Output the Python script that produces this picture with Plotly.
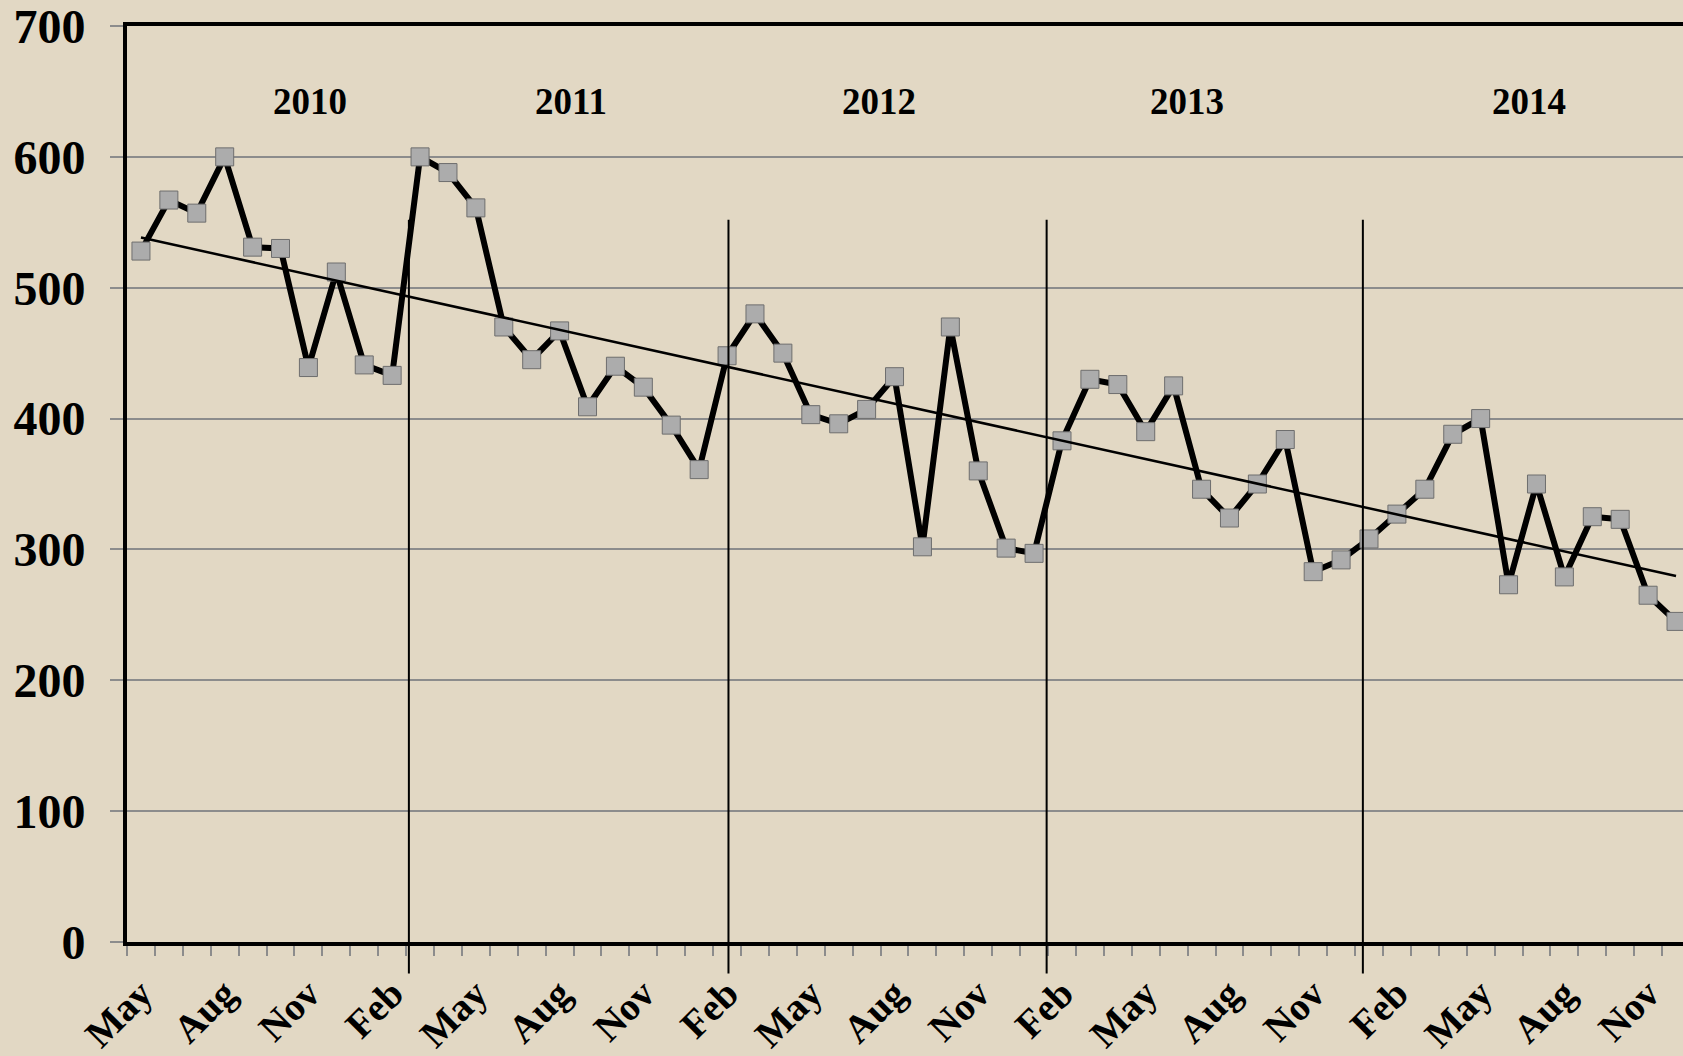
import numpy as np
import pandas as pd
import plotly.graph_objects as go

# ---- data ----
months = list(pd.date_range("2010-05-01", periods=56, freq="MS").strftime("%b %Y"))
values = [528, 567, 557, 600, 531, 530, 439, 512, 441, 433,
          600, 588, 561, 470, 445, 467, 409, 440, 424, 395,
          361, 448, 480, 450, 403, 396, 407, 432, 302, 470,
          360, 301, 297, 383, 430, 426, 390, 425, 346, 324,
          350, 384, 283, 292, 308, 327, 346, 388, 400, 273,
          350, 279, 325, 323, 265, 245]
year_labels = ["2010", "2011", "2012", "2013", "2014"]
y_ticks = [0, 100, 200, 300, 400, 500, 600, 700]

# ---- layout constants ----
year_label_x = [6.07, 15.4, 26.43, 37.47, 49.73]
year_label_y = 642
divider_x = [9.6, 21.05, 32.45, 43.78]
BG = "#E2D8C4"
FONT = "Liberation Serif, Times New Roman, serif"

idx = np.arange(len(values))
slope, intercept = np.polyfit(idx, values, 1)
trend = [intercept + slope * i for i in (idx[0], idx[-1])]

x_ticktext = [m.split(" ")[0] if i % 3 == 0 else "" for i, m in enumerate(months)]

fig = go.Figure()
fig.add_trace(go.Scatter(
    x=months, y=values, mode="lines+markers",
    line=dict(color="black", width=6),
    marker=dict(symbol="square", size=18, color="#ACACAC",
                line=dict(color="#6E6E6E", width=1)),
    showlegend=False, hoverinfo="x+y"))
fig.add_trace(go.Scatter(
    x=[months[0], months[-1]], y=trend, mode="lines",
    line=dict(color="black", width=2.5), showlegend=False, hoverinfo="skip"))

shapes = []
for xv in divider_x:
    shapes.append(dict(type="line", xref="x", yref="paper", x0=xv, x1=xv,
                       y0=-24 / 700, y1=552 / 700,
                       line=dict(color="black", width=2), layer="above"))

annotations = []
for lab, xv in zip(year_labels, year_label_x):
    annotations.append(dict(x=xv, y=year_label_y, xref="x", yref="y", text=lab,
                            showarrow=False,
                            font=dict(family=FONT, size=37, color="black", weight="bold")))

fig.update_layout(
    width=1683, height=1056,
    margin=dict(l=127, r=0, t=26, b=114, autoexpand=False),
    paper_bgcolor=BG, plot_bgcolor=BG,
    shapes=shapes, annotations=annotations,
    xaxis=dict(
        type="category", range=[-0.5, 55.25],
        tickmode="array", tickvals=months, ticktext=x_ticktext,
        tickson="boundaries", ticks="outside", ticklen=10, tickcolor="#8C8C8C", tickwidth=2,
        tickangle=-45, ticklabelstandoff=9, ticklabeloverflow="allow",
        tickfont=dict(family=FONT, size=39, color="black", weight="bold"),
        showgrid=False, showline=True, linecolor="black", linewidth=4, mirror=True,
        zeroline=False),
    yaxis=dict(
        range=[0, 700], tickmode="array", tickvals=y_ticks,
        ticks="outside", ticklen=13, tickcolor="#8C8C8C", tickwidth=2,
        ticklabelstandoff=15, ticklabeloverflow="allow",
        tickfont=dict(family=FONT, size=48, color="black", weight="bold"),
        showgrid=True, gridcolor="#8C8C8C", gridwidth=2,
        showline=True, linecolor="black", linewidth=4, zeroline=False),
)

fig.write_html(
    "out.html",
    config={"displayModeBar": False},
    post_script="document.body.style.margin='0px';"
                "document.body.style.backgroundColor='" + BG + "';")
